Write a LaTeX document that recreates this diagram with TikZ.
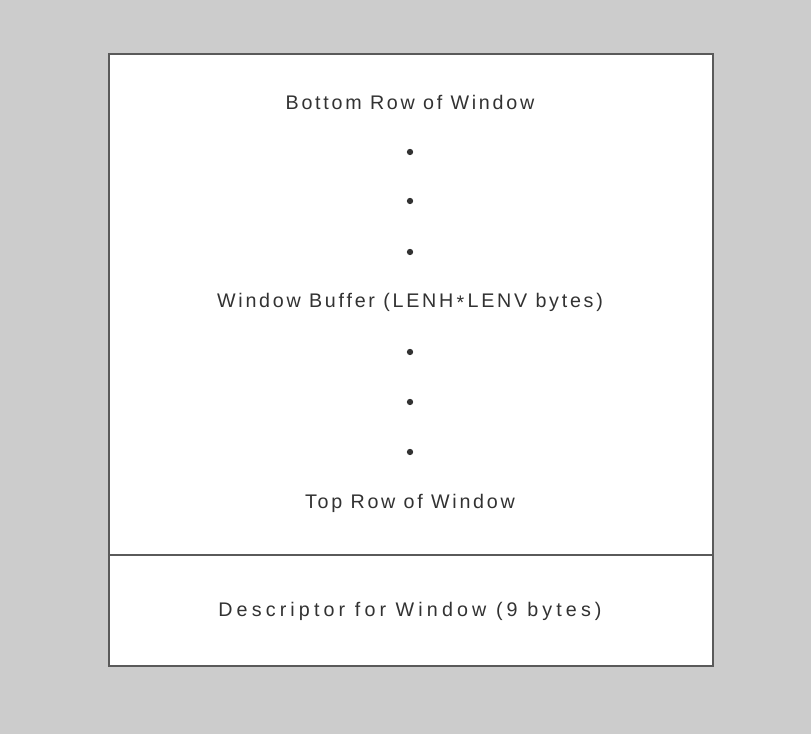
\documentclass[tikz,border=0pt]{standalone}
\usepackage{fontspec}
\setmainfont[LetterSpace=14]{Liberation Sans}
\usepackage{tikz}
\usetikzlibrary{positioning,backgrounds}
\usepackage{xcolor}
\definecolor{pagegray} {RGB}{204, 204, 204}
\definecolor{framegray}{RGB}{ 90,  90,  90}
\definecolor{textgray} {RGB}{ 50,  50,  50}
\tikzset{
  memblock/.style={
    draw=framegray, fill=white, line width=0.9pt
  },
  rowlabel/.style={
    font=\fontsize{14}{16}\selectfont, text=textgray, inner sep=0pt
  },
  widelabel/.style={
    rowlabel, font=\fontsize{14}{16}\selectfont\addfontfeature{LetterSpace=21}
  },
  vdot/.style={
    circle, fill=textgray, inner sep=0pt, minimum size=4.5pt
  },
}
\begin{document}
\begin{tikzpicture}[x=0.025cm, y=-0.025cm]

% ── Page background ───────────────────────────────────────────────────────────
\fill[pagegray] (0,0) rectangle (811,734);
\useasboundingbox (0,0) rectangle (811,734);

% ── Window buffer and descriptor blocks ───────────────────────────────────────
\draw[memblock] (109,54) rectangle (713,555);
\draw[memblock] (109,555) rectangle (713,666);

% ── Buffer rows ───────────────────────────────────────────────────────────────
\node[rowlabel] (bottom) at (410,102) {Bottom Row of Window};
\node[rowlabel] (buffer) at (410,302) {Window Buffer (LENH\,\raisebox{-0.25ex}{*}\,LENV bytes)};
\node[rowlabel] (top)    at (410,503) {Top Row of Window};

% ── Ellipsis dots ─────────────────────────────────────────────────────────────
\foreach \y [count=\i] in {152,201,252,352,402,452}
  \node[vdot] (dot\i) at (410,\y) {};

% ── Descriptor ────────────────────────────────────────────────────────────────
\node[widelabel] (desc) at (410,611) {Descriptor for Window (9 bytes)};

\end{tikzpicture}
\end{document}
